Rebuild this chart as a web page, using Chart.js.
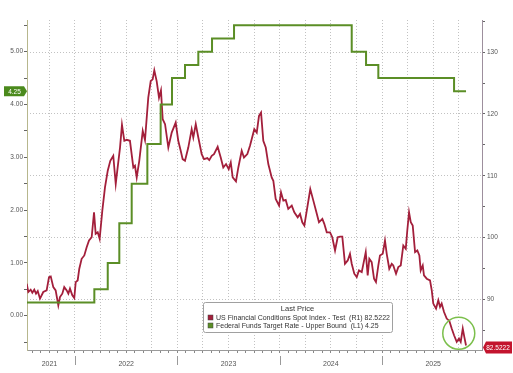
<!DOCTYPE html>
<html>
<head>
<meta charset="utf-8">
<script src="https://cdn.jsdelivr.net/npm/chart.js@4.4.1/dist/chart.umd.min.js"></script>
<style>
  html, body { margin: 0; padding: 0; background: #fff; }
  #wrap { width: 513px; height: 373px; }
</style>
</head>
<body>
<div id="wrap"><canvas id="chart" width="513" height="373"></canvas></div>
<script>
// US Financial Conditions Spot Index (right axis), dates as decimal years
const fciDates = [
  2021.528, 2021.544, 2021.567, 2021.583, 2021.602, 2021.619, 2021.636, 2021.658, 2021.690, 2021.723,
  2021.746, 2021.763, 2021.788, 2021.811, 2021.837, 2021.853, 2021.876, 2021.895, 2021.919, 2021.935,
  2021.951, 2021.974, 2021.993, 2022.007, 2022.026, 2022.042, 2022.065, 2022.091, 2022.114, 2022.137,
  2022.163, 2022.186, 2022.202, 2022.222, 2022.241, 2022.267, 2022.293, 2022.320, 2022.345, 2022.374,
  2022.398, 2022.417, 2022.440, 2022.459, 2022.482, 2022.505, 2022.537, 2022.570, 2022.586, 2022.603,
  2022.628, 2022.662, 2022.684, 2022.716, 2022.740, 2022.759, 2022.775, 2022.798, 2022.821, 2022.840,
  2022.857, 2022.880, 2022.912, 2022.945, 2022.984, 2023.009, 2023.033, 2023.052, 2023.075, 2023.107,
  2023.140, 2023.156, 2023.180, 2023.205, 2023.238, 2023.261, 2023.293, 2023.312, 2023.336, 2023.358,
  2023.394, 2023.424, 2023.449, 2023.476, 2023.502, 2023.522, 2023.541, 2023.573, 2023.596, 2023.629,
  2023.651, 2023.684, 2023.710, 2023.752, 2023.776, 2023.798, 2023.818, 2023.840, 2023.864, 2023.889,
  2023.922, 2023.938, 2023.961, 2023.994, 2024.013, 2024.036, 2024.059, 2024.084, 2024.118, 2024.143,
  2024.176, 2024.199, 2024.221, 2024.241, 2024.270, 2024.299, 2024.329, 2024.355, 2024.384, 2024.417,
  2024.436, 2024.460, 2024.492, 2024.514, 2024.541, 2024.567, 2024.590, 2024.612, 2024.638, 2024.665,
  2024.687, 2024.704, 2024.729, 2024.753, 2024.775, 2024.802, 2024.841, 2024.860, 2024.876, 2024.899,
  2024.922, 2024.941, 2024.964, 2024.980, 2025.007, 2025.029, 2025.046, 2025.071, 2025.095, 2025.110,
  2025.137, 2025.159, 2025.183, 2025.208, 2025.232, 2025.247, 2025.264, 2025.281, 2025.300, 2025.323,
  2025.345, 2025.365, 2025.378, 2025.398, 2025.410, 2025.437, 2025.469, 2025.486, 2025.501, 2025.528,
  2025.550, 2025.567, 2025.583, 2025.606, 2025.632, 2025.658, 2025.681, 2025.704, 2025.730, 2025.752,
  2025.769, 2025.789, 2025.804, 2025.821
];
const fciValues = [
  92.53, 91.18, 91.56, 91.08, 91.56, 90.92, 91.34, 90.11, 91.18, 91.45,
  93.60, 93.71, 91.98, 91.45, 89.03, 90.37, 90.92, 91.98, 91.45, 90.92,
  91.73, 90.65, 90.21, 92.79, 93.06, 94.95, 96.56, 97.10, 98.44, 99.52,
  100.05, 104.08, 100.60, 100.85, 99.79, 104.35, 108.11, 110.81, 112.42, 113.23,
  108.66, 111.34, 114.56, 118.23, 115.65, 115.81, 115.65, 111.34, 111.61, 109.73,
  112.42, 117.26, 115.76, 122.63, 125.32, 125.60, 127.05, 125.32, 122.63, 123.82,
  119.15, 118.34, 114.56, 116.98, 118.60, 115.65, 114.03, 112.69, 112.42, 114.56,
  117.53, 116.18, 118.34, 116.18, 113.50, 112.69, 112.85, 112.53, 113.23, 113.50,
  114.68, 112.95, 111.34, 111.89, 111.08, 112.15, 109.73, 109.08, 111.34, 114.03,
  112.95, 113.50, 114.84, 117.53, 116.98, 119.68, 120.21, 115.65, 114.56, 111.89,
  109.73, 109.19, 106.24, 105.16, 107.31, 105.97, 106.08, 104.63, 105.16, 104.08,
  103.27, 103.82, 102.47, 101.94, 104.89, 107.85, 105.97, 104.35, 102.47, 103.02,
  102.21, 100.85, 100.85, 100.05, 97.90, 100.05, 100.16, 100.16, 95.76, 96.29,
  97.37, 95.76, 94.15, 93.60, 94.68, 94.40, 97.63, 93.87, 96.56, 96.02,
  93.34, 92.79, 95.48, 97.10, 97.37, 99.52, 97.37, 94.95, 95.76, 95.48,
  94.15, 95.21, 95.48, 98.71, 98.18, 101.13, 104.08, 102.47, 101.94, 97.63,
  97.90, 97.10, 94.68, 95.48, 93.87, 93.34, 93.06, 91.45, 89.31, 88.50,
  89.84, 88.76, 89.31, 87.95, 86.89, 86.50, 85.27, 84.19, 83.11, 83.66,
  83.11, 85.27, 83.92, 82.52
];

// Fed funds target upper bound (left axis): date each level starts
const fedDates = [2021.528, 2022.189, 2022.320, 2022.433, 2022.554, 2022.707, 2022.837, 2022.948,
  2023.075, 2023.205, 2023.339, 2023.554, 2024.704, 2024.844, 2024.964, 2025.704, 2025.821];
const fedValues = [0.25, 0.5, 1.0, 1.75, 2.5, 3.25, 4.0, 4.5,
  4.75, 5.0, 5.25, 5.5, 5.0, 4.75, 4.5, 4.25, 4.25];

const yearLabels = ["2021", "2022", "2023", "2024", "2025"];
const yearLabelAt = [2021.75, 2022.5, 2023.5, 2024.5, 2025.5];
const yearStarts = [2022, 2023, 2024, 2025];

const fciName = "US Financial Conditions Spot Index - Test  (R1) 82.5222";
const fedName = "Federal Funds Target Rate - Upper Bound  (L1) 4.25";
const fciLast = "82.5222";
const fedLast = "4.25";
const circleAt = [2025.75, 84.5];

const RED = "#a31f3b";
const GREEN = "#5b8e26";
const FONT = "'Liberation Sans', Arial, sans-serif";

// month ticks along the time axis
const monthTicks = [];
for (let y = 2021; y <= 2025; y++) {
  for (let m = 0; m < 12; m++) {
    const v = y + m / 12;
    if (v >= 2021.53 && v <= 2025.97) monthTicks.push(v);
  }
}
const near = (a, b) => Math.abs(a - b) < 1e-6;
const isQuarter = v => near(Math.round((v % 1) * 4) / 4, v % 1);

const bg = {
  id: "bg",
  beforeDraw(chart) {
    const c = chart.ctx;
    c.save();
    c.fillStyle = "#fff";
    c.fillRect(0, 0, chart.width, chart.height);
    c.restore();
  }
};

const decor = {
  id: "decor",
  afterDraw(chart) {
    const { ctx, chartArea: ca, scales: { x, yL, yR } } = chart;
    ctx.save();

    // year separators below the axis
    ctx.strokeStyle = "#9a9a9a";
    ctx.lineWidth = 1;
    yearStarts.forEach(v => {
      const px = Math.round(x.getPixelForValue(v)) + 0.5;
      ctx.beginPath();
      ctx.moveTo(px, ca.bottom + 6);
      ctx.lineTo(px, ca.bottom + 15);
      ctx.stroke();
    });

    // green circle round the latest readings
    ctx.strokeStyle = "#7bbf4b";
    ctx.lineWidth = 1.5;
    ctx.beginPath();
    ctx.arc(x.getPixelForValue(circleAt[0]), yR.getPixelForValue(circleAt[1]), 16, 0, Math.PI * 2);
    ctx.stroke();

    ctx.font = "6.5px " + FONT;
    ctx.textBaseline = "middle";
    ctx.textAlign = "center";

    // last value tag, left axis
    const gy = yL.getPixelForValue(fedValues[fedValues.length - 1]);
    ctx.fillStyle = "#4b8a1c";
    ctx.beginPath();
    ctx.moveTo(4, gy - 5);
    ctx.lineTo(24, gy - 5);
    ctx.lineTo(27, gy);
    ctx.lineTo(24, gy + 5);
    ctx.lineTo(4, gy + 5);
    ctx.closePath();
    ctx.fill();
    ctx.fillStyle = "#fff";
    ctx.fillText(fedLast, 14.5, gy + 0.5);

    // last value tag, right axis
    const ry = yR.getPixelForValue(fciValues[fciValues.length - 1]) + 2;
    ctx.fillStyle = "#c3142e";
    ctx.beginPath();
    ctx.moveTo(ca.right + 1, ry);
    ctx.lineTo(ca.right + 4, ry - 6);
    ctx.lineTo(512, ry - 6);
    ctx.lineTo(512, ry + 6);
    ctx.lineTo(ca.right + 4, ry + 6);
    ctx.closePath();
    ctx.fill();
    ctx.fillStyle = "#fff";
    ctx.fillText(fciLast, 498, ry + 0.5);

    // legend box
    const lx = 203, ly = 302, lw = 189, lh = 30;
    ctx.fillStyle = "#fff";
    ctx.strokeStyle = "#a0a0a0";
    ctx.lineWidth = 1;
    ctx.beginPath();
    ctx.roundRect(lx + 0.5, ly + 0.5, lw, lh, 2);
    ctx.fill();
    ctx.stroke();
    ctx.fillStyle = "#333";
    ctx.font = "7.5px " + FONT;
    ctx.fillText("Last Price", lx + lw / 2, ly + 7);
    ctx.textAlign = "left";
    ctx.font = "7px " + FONT;
    [[RED, fciName, ly + 15.5], [GREEN, fedName, ly + 23.5]].forEach(([col, txt, yy]) => {
      ctx.fillStyle = col;
      ctx.fillRect(lx + 5, yy - 2.5, 5, 5);
      ctx.strokeStyle = "#444";
      ctx.lineWidth = 0.5;
      ctx.strokeRect(lx + 5, yy - 2.5, 5, 5);
      ctx.fillStyle = "#333";
      ctx.fillText(txt, lx + 13, yy + 0.5);
    });

    ctx.restore();
  }
};

new Chart(document.getElementById("chart"), {
  type: "line",
  data: {
    datasets: [
      {
        label: fciName,
        data: fciDates.map((d, i) => ({ x: d, y: fciValues[i] })),
        yAxisID: "yR",
        borderColor: RED,
        borderWidth: 1.8,
        pointRadius: 0,
        tension: 0,
        fill: false,
        order: 2
      },
      {
        label: fedName,
        data: fedDates.map((d, i) => ({ x: d, y: fedValues[i] })),
        yAxisID: "yL",
        borderColor: GREEN,
        borderWidth: 2,
        pointRadius: 0,
        stepped: true,
        fill: false,
        order: 1
      }
    ]
  },
  options: {
    responsive: false,
    animation: false,
    layout: { padding: { top: 20, left: 0, right: 0, bottom: 0 } },
    plugins: { legend: { display: false }, tooltip: { enabled: false } },
    scales: {
      x: {
        type: "linear",
        min: 2021.531,
        max: 2025.977,
        afterBuildTicks: s => { s.ticks = monthTicks.map(v => ({ value: v })); },
        afterFit: s => { s.height = 23; },
        ticks: {
          autoSkip: false,
          maxRotation: 0,
          padding: 7,
          color: "#555",
          font: { size: 7, family: FONT },
          callback: v => {
            const i = yearLabelAt.findIndex(t => near(t, v));
            return i >= 0 ? yearLabels[i] : "";
          }
        },
        grid: {
          color: c => (c.tick && isQuarter(c.tick.value)) ? "#c2c2c2" : "rgba(0,0,0,0)",
          tickColor: "#888",
          tickLength: 3,
          lineWidth: 1
        },
        border: { color: "#9a9a9a", dash: [1, 2] }
      },
      yL: {
        position: "left",
        min: -0.65,
        max: 5.6,
        afterFit: s => { s.width = 27; },
        ticks: {
          stepSize: 0.5,
          includeBounds: false,
          padding: 1,
          color: "#555",
          font: { size: 6.5, family: FONT },
          callback: v => Number.isInteger(v) ? v.toFixed(2) : ""
        },
        grid: { drawOnChartArea: false, tickLength: 3, tickColor: "#666" },
        border: { color: "#b7b78d" }
      },
      yR: {
        position: "right",
        min: 81.8,
        max: 135.2,
        afterFit: s => { s.width = 31; },
        ticks: {
          stepSize: 5,
          includeBounds: false,
          padding: 2,
          color: "#555",
          font: { size: 6.5, family: FONT },
          callback: v => near(v % 10, 0) ? String(v) : ""
        },
        grid: {
          color: c => (c.tick && near(c.tick.value % 10, 0)) ? "#c2c2c2" : "rgba(0,0,0,0)",
          tickLength: 3,
          tickColor: "#666"
        },
        border: { color: "#9d8f9d", dash: [1, 2] }
      }
    }
  },
  plugins: [bg, decor]
});
</script>
</body>
</html>
